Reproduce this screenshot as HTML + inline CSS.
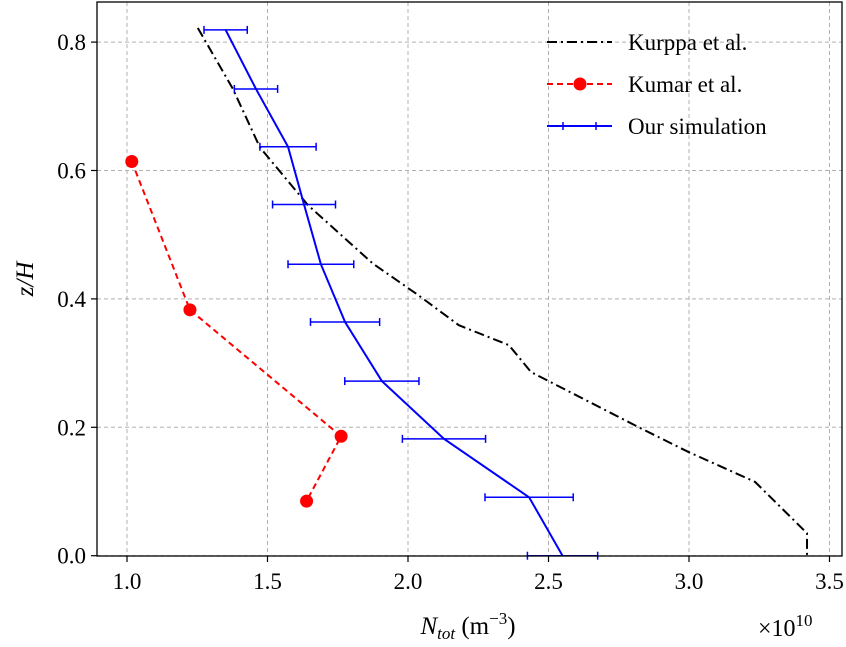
<!DOCTYPE html>
<html><head><meta charset="utf-8"><style>
html,body{margin:0;padding:0;background:#fff;}
svg text{font-family:"Liberation Serif","DejaVu Serif",serif;fill:#000;}
</style></head><body>
<svg id="chart" width="846" height="642" viewBox="0 0 846 642" xmlns="http://www.w3.org/2000/svg">
<g id="grid"></g>
<g id="series"></g>
<rect x="97" y="2" width="745" height="554" fill="none" stroke="#000" stroke-width="1.3"/>
<g id="ticks"></g>
<text x="468" y="634" font-size="25" text-anchor="middle"><tspan font-style="italic">N</tspan><tspan font-style="italic" font-size="17" dy="5">tot</tspan><tspan dy="-5"> (m</tspan><tspan font-size="17" dy="-10">−3</tspan><tspan dy="10">)</tspan></text>
<text x="758" y="636" font-size="24">×10<tspan font-size="17" dy="-10">10</tspan></text>
<text transform="translate(33,279) rotate(-90)" font-size="25" text-anchor="middle" font-style="italic">z/H</text>
<g id="legend">
<g><line x1="547" y1="42" x2="612" y2="42" stroke="#000" stroke-width="2" stroke-dasharray="10,4,2,4"/><text x="628" y="50" font-size="23">Kurppa et al.</text></g>
<g><line x1="547" y1="84" x2="612" y2="84" stroke="#f00" stroke-width="2" stroke-dasharray="6,4"/><circle cx="580" cy="84" r="6.5" fill="#f00"/><text x="628" y="92" font-size="23">Kumar et al.</text></g>
<g><line x1="547" y1="126" x2="612" y2="126" stroke="#00f" stroke-width="2"/><line x1="563" y1="122" x2="563" y2="130" stroke="#00f" stroke-width="1.5"/><line x1="596" y1="122" x2="596" y2="130" stroke="#00f" stroke-width="1.5"/><text x="628" y="134" font-size="23">Our simulation</text></g>
</g>
</svg>
<script>
const xTicks=[1.0,1.5,2.0,2.5,3.0,3.5];
const yTicks=[0.0,0.2,0.4,0.6,0.8];
const kurppaX=[1.252,1.377,1.473,1.644,1.875,2.036,2.181,2.359,2.438,2.826,2.996,3.235,3.420,3.420];
const kurppaY=[0.822,0.727,0.636,0.546,0.455,0.406,0.359,0.328,0.286,0.199,0.162,0.115,0.035,0.0];
const kumarX=[1.017,1.224,1.762,1.639];
const kumarY=[0.614,0.383,0.186,0.085];
const simX=[1.351,1.459,1.573,1.630,1.690,1.776,1.907,2.128,2.431,2.550];
const simY=[0.819,0.727,0.637,0.547,0.454,0.364,0.272,0.182,0.091,0.0];
const simErr=[0.077,0.077,0.100,0.112,0.117,0.123,0.132,0.148,0.157,0.125];
const NS="http://www.w3.org/2000/svg";
function sx(v){return 127+(v-1.0)*281;}
function sy(v){return 555.7-v*642;}
function mk(tag,attrs,parent){const e=document.createElementNS(NS,tag);for(const k in attrs)e.setAttribute(k,attrs[k]);parent.appendChild(e);return e;}
const grid=document.getElementById('grid'),ticks=document.getElementById('ticks'),ser=document.getElementById('series');
xTicks.forEach(t=>{const x=sx(t);
 const g=mk('line',{x1:x,x2:x,y1:2,y2:556,stroke:'#b0b0b0','stroke-width':1,'stroke-dasharray':'4,3'},grid);
 
 
 const tk=mk('line',{x1:x,x2:x,y1:556,y2:562,stroke:'#000','stroke-width':1.2},ticks);
 
 
 const tx=mk('text',{x:x,y:589,'font-size':23,'text-anchor':'middle'},ticks);tx.textContent=t.toFixed(1);
 
 
});
yTicks.forEach(t=>{const y=sy(t);
 const g=mk('line',{x1:97,x2:842,y1:y,y2:y,stroke:'#b0b0b0','stroke-width':1,'stroke-dasharray':'4,3'},grid);
 
 
 const tk=mk('line',{x1:91,x2:97,y1:y,y2:y,stroke:'#000','stroke-width':1.2},ticks);
 
 
 const tx=mk('text',{x:86,y:y+8,'font-size':23,'text-anchor':'end'},ticks);tx.textContent=t.toFixed(1);
 
 
});
function pts(xs,ys){return xs.map((v,i)=>sx(v)+','+sy(ys[i])).join(' ');}
const k=mk('polyline',{points:pts(kurppaX,kurppaY),fill:'none',stroke:'#000','stroke-width':2,'stroke-dasharray':'10,4,2,4'},ser);


const km=mk('polyline',{points:pts(kumarX,kumarY),fill:'none',stroke:'#f00','stroke-width':2,'stroke-dasharray':'6,4'},ser);


kumarX.forEach((v,i)=>{const c=mk('circle',{cx:sx(v),cy:sy(kumarY[i]),r:6.5,fill:'#f00'},ser);
 
 });
const s=mk('polyline',{points:pts(simX,simY),fill:'none',stroke:'#00f','stroke-width':2},ser);


simX.forEach((v,i)=>{const y=sy(simY[i]),a=sx(v-simErr[i]),b=sx(v+simErr[i]);
 const g=mk('g',{},ser);
 
 
 mk('line',{x1:a,x2:b,y1:y,y2:y,stroke:'#00f','stroke-width':1.5},g);
 mk('line',{x1:a,x2:a,y1:y-4,y2:y+4,stroke:'#00f','stroke-width':1.5},g);
 mk('line',{x1:b,x2:b,y1:y-4,y2:y+4,stroke:'#00f','stroke-width':1.5},g);
});
</script>
</body></html>
